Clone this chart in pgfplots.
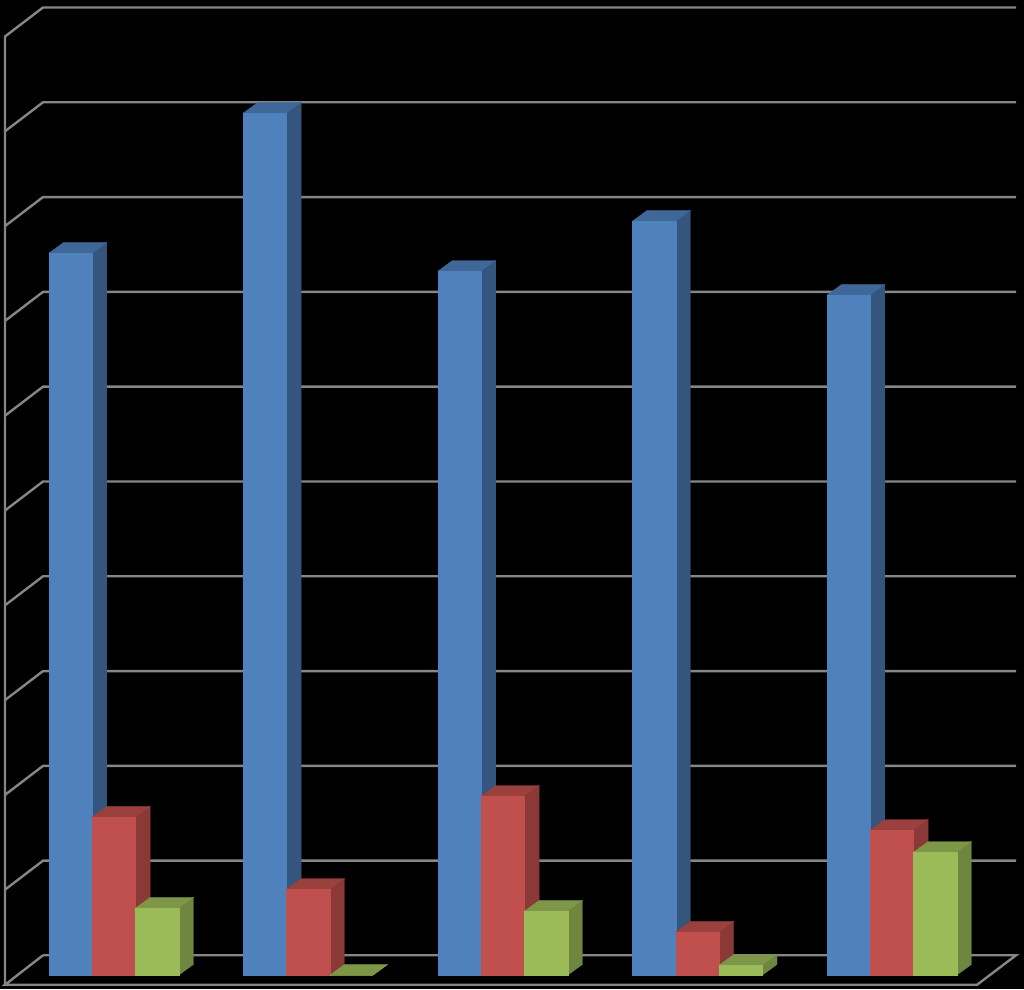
\documentclass[border=0pt]{standalone}
\usepackage{pgfplots}
\pgfplotsset{compat=1.18}

\definecolor{blueF}{HTML}{4F81BD}
\definecolor{blueS}{HTML}{34557E}
\definecolor{blueT}{HTML}{3F6797}
\definecolor{redF}{HTML}{C0504D}
\definecolor{redS}{HTML}{8A3937}
\definecolor{redT}{HTML}{9A403D}
\definecolor{greenF}{HTML}{9BBB59}
\definecolor{greenS}{HTML}{6F8640}
\definecolor{greenT}{HTML}{7D9647}
\definecolor{gridgray}{HTML}{868686}

% one 3d column: left edge (px), value, colour prefix
\newcommand{\column}[3]{%
  \pgfmathsetmacro{\xr}{#1+43.3}%
  \pgfmathsetmacro{\xrb}{\xr+14.5}%
  \pgfmathsetmacro{\xlb}{#1+14.5}%
  \pgfmathsetmacro{\vb}{#2+0.111}%
  \addplot[fill=#3S,draw=#3S,line width=0.3pt] coordinates {(\xr,0) (\xrb,0.111) (\xrb,\vb) (\xr,#2)} -- cycle;
  \addplot[fill=#3T,draw=#3T,line width=0.3pt] coordinates {(#1,#2) (\xlb,\vb) (\xrb,\vb) (\xr,#2)} -- cycle;
  \addplot[fill=#3F,draw=#3F,line width=0.3pt] coordinates {(#1,0) (\xr,0) (\xr,#2) (#1,#2)} -- cycle;
}

\begin{document}
\begin{tikzpicture}
\begin{axis}[
    scale only axis,
    width=1024pt, height=989pt,
    xmin=0, xmax=1024,
    ymin=-0.1477, ymax=10.285,
    ticks=none,
    axis line style={draw=none},
    axis background/.style={fill=black},
    every axis plot/.append style={mark=none},
    wall/.style={gridgray,line width=2.4pt},
  ]
  % floor
  \addplot[wall] coordinates {(43,0.208) (5,-0.103) (977,-0.103) (1016,0.208) (43,0.208)};
  % left wall and back wall
  \addplot[wall] coordinates {(5,-0.103) (5,9.9) (43,10.206) (1016,10.206)};
  \addplot[wall] coordinates {(5,8.9) (43,9.206) (1016,9.206)};
  \addplot[wall] coordinates {(5,7.9) (43,8.206) (1016,8.206)};
  \addplot[wall] coordinates {(5,6.9) (43,7.206) (1016,7.206)};
  \addplot[wall] coordinates {(5,5.9) (43,6.206) (1016,6.206)};
  \addplot[wall] coordinates {(5,4.9) (43,5.206) (1016,5.206)};
  \addplot[wall] coordinates {(5,3.9) (43,4.206) (1016,4.206)};
  \addplot[wall] coordinates {(5,2.9) (43,3.206) (1016,3.206)};
  \addplot[wall] coordinates {(5,1.9) (43,2.206) (1016,2.206)};
  \addplot[wall] coordinates {(5,0.9) (43,1.206) (1016,1.206)};

  \column{49}{7.616}{blue}
  \column{92.3}{1.667}{red}
  \column{135.6}{0.707}{green}

  \column{243.3}{9.093}{blue}
  \column{286.6}{0.907}{red}
  \column{329.9}{0}{green}

  \column{438}{7.426}{blue}
  \column{481.3}{1.888}{red}
  \column{524.6}{0.675}{green}

  \column{632.6}{7.954}{blue}
  \column{675.9}{0.454}{red}
  \column{719.2}{0.105}{green}

  \column{827}{7.173}{blue}
  \column{870.3}{1.529}{red}
  \column{913.6}{1.297}{green}
\end{axis}
\end{tikzpicture}
\end{document}
